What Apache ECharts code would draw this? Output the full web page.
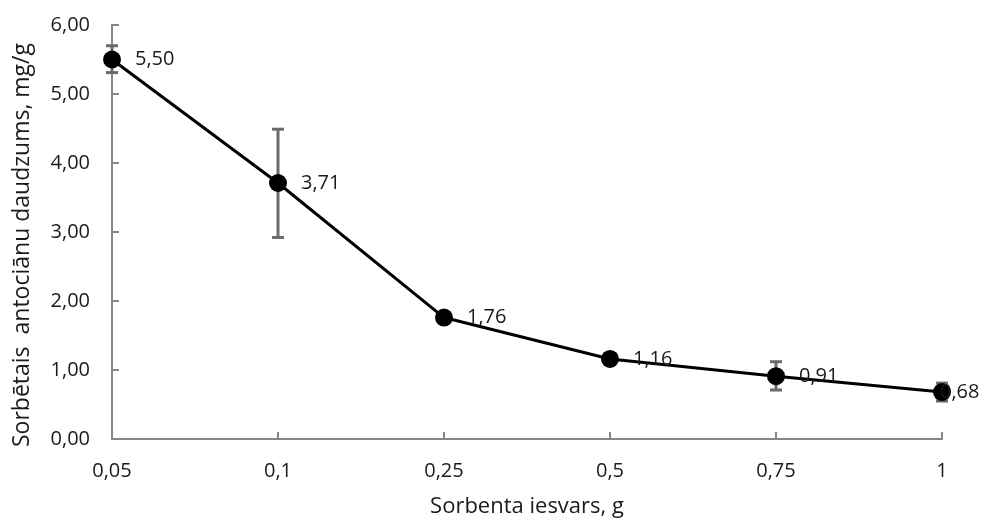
<!DOCTYPE html>
<html><head><meta charset="utf-8">
<script src="https://cdn.jsdelivr.net/npm/echarts@6/dist/echarts.min.js"></script>
<style>html,body{margin:0;padding:0;background:#fff}#c{width:982px;height:523px}</style>
</head><body><div id="c"></div>
<script>
const categories = ['0,05', '0,1', '0,25', '0,5', '0,75', '1'];
const values = [5.50, 3.71, 1.76, 1.16, 0.91, 0.68];
const errLow = [5.31, 2.92, 1.76, 1.16, 0.71, 0.55];
const errHigh = [5.70, 4.49, 1.76, 1.16, 1.12, 0.81];
const yTicks = [0, 1, 2, 3, 4, 5, 6];

const fmt = v => v.toFixed(2).replace('.', ',');
const FONT = 'Open Sans';
const chart = echarts.init(document.getElementById('c'));
chart.setOption({
  animation: false,
  textStyle: { fontFamily: FONT },
  grid: { left: 112, right: 40, top: 25, bottom: 81 },
  xAxis: {
    type: 'category', data: categories, boundaryGap: false,
    name: 'Sorbenta iesvars, g', nameLocation: 'middle', nameGap: 57,
    nameTextStyle: { fontSize: 22, color: '#1a1a1a', fontFamily: FONT },
    axisLine: { lineStyle: { color: '#868686', width: 2 } },
    axisTick: { inside: true, length: 7, lineStyle: { color: '#868686', width: 2 } },
    axisLabel: { fontSize: 20, color: '#1a1a1a', margin: 22, fontFamily: FONT }
  },
  yAxis: {
    type: 'value', min: 0, max: 6, interval: 1,
    name: 'Sorbētais  antociānu daudzums, mg/g', nameLocation: 'middle', nameGap: 78,
    nameTextStyle: { fontSize: 23, color: '#1a1a1a', fontFamily: FONT, padding: [0, 26, 0, 0] },
    axisLine: { show: true, lineStyle: { color: '#868686', width: 2 } },
    axisTick: { show: true, inside: true, length: 7, lineStyle: { color: '#868686', width: 2 } },
    splitLine: { show: false },
    axisLabel: { fontSize: 20, color: '#1a1a1a', margin: 22, fontFamily: FONT,
      formatter: v => yTicks.includes(v) ? fmt(v) : '' }
  },
  series: [
    {
      type: 'custom',
      z: 1,
      data: categories.map((c, i) => [i, errLow[i], errHigh[i]]),
      renderItem: function (params, api) {
        const lo = api.coord([api.value(0), api.value(1)]);
        const hi = api.coord([api.value(0), api.value(2)]);
        if (Math.abs(hi[1] - lo[1]) < 1) return null;
        const w = 6;
        const st = { stroke: '#6b6b6b', lineWidth: 3 };
        return { type: 'group', children: [
          { type: 'line', shape: { x1: lo[0], y1: lo[1], x2: hi[0], y2: hi[1] }, style: st },
          { type: 'line', shape: { x1: lo[0] - w, y1: lo[1], x2: lo[0] + w, y2: lo[1] }, style: st },
          { type: 'line', shape: { x1: hi[0] - w, y1: hi[1], x2: hi[0] + w, y2: hi[1] }, style: st }
        ]};
      }
    },
    {
      type: 'line', z: 3,
      data: values.map((v, i) => i === values.length - 1
        ? { value: v, label: { distance: -11 } }
        : v),
      symbol: 'circle', symbolSize: 18,
      itemStyle: { color: '#000' },
      lineStyle: { color: '#000', width: 3 },
      label: { show: true, position: 'right', distance: 14, fontSize: 20, color: '#1a1a1a',
        fontFamily: FONT, formatter: p => fmt(p.value) }
    }
  ]
});
</script></body></html>
